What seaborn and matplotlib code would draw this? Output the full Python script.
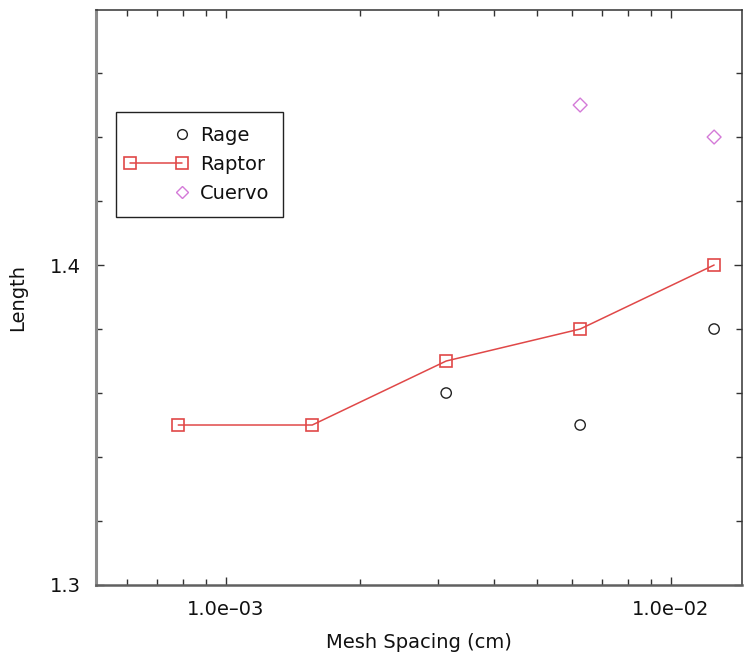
import matplotlib
matplotlib.use('Agg')
import matplotlib.pyplot as plt
import seaborn as sns
from matplotlib.lines import Line2D
from matplotlib.legend_handler import HandlerLine2D
from matplotlib.ticker import LogLocator, MultipleLocator, NullFormatter

# ---- data ----
mesh_spacing = [7.8125e-4, 1.5625e-3, 3.125e-3, 6.25e-3, 1.25e-2]
raptor = [1.35, 1.35, 1.37, 1.38, 1.40]
rage_x = [3.125e-3, 6.25e-3, 1.25e-2]
rage = [1.36, 1.35, 1.38]
cuervo_x = [6.25e-3, 1.25e-2]
cuervo = [1.450, 1.440]
series_names = ['Rage', 'Raptor', 'Cuervo']
xtick_values = [1e-3, 1e-2]
xtick_labels = ['1.0e\u201303', '1.0e\u201302']
ytick_values = [1.3, 1.4]
ytick_labels = ['1.3', '1.4']
x_label = 'Mesh Spacing (cm)'
y_label = 'Length'

# ---- style ----
sns.set_theme(style='ticks')
plt.rcParams['font.family'] = ['DejaVu Sans']

red = '#e04848'
magenta = '#d47ad8'
dark = '#222222'


class RightMarkerHandler(HandlerLine2D):
    """Legend entry showing a single marker at the right end of the handle."""
    def create_artists(self, legend, orig_handle, xdescent, ydescent,
                       width, height, fontsize, trans):
        artists = super().create_artists(legend, orig_handle, xdescent,
                                         ydescent, width, height, fontsize,
                                         trans)
        for a in artists:
            if isinstance(a, Line2D) and len(a.get_xdata()) >= 2:
                a.set_markevery([len(a.get_xdata()) - 1])
        return artists


fig = plt.figure(figsize=(7.47, 6.55), dpi=100)
ax = fig.add_axes([96 / 747, 70 / 655, 646 / 747, 575 / 655])
ax.set_xscale('log')

sns.lineplot(x=mesh_spacing, y=raptor, ax=ax, color=red, linewidth=1.1,
             marker='s', markersize=8, markerfacecolor='none',
             markeredgecolor=red, markeredgewidth=1.2)
sns.scatterplot(x=rage_x, y=rage, ax=ax, marker='o', s=55,
                facecolors='none', edgecolors=dark, linewidth=1.0)
sns.scatterplot(x=cuervo_x, y=cuervo, ax=ax, marker='D', s=50,
                facecolors='none', edgecolors=magenta, linewidth=1.0)

ax.set_xlim(5.104e-4, 1.444e-2)
ax.set_ylim(1.3, 1.4797)

ax.set_xticks(xtick_values, labels=xtick_labels)
ax.xaxis.set_minor_locator(LogLocator(base=10, subs=range(2, 10)))
ax.xaxis.set_minor_formatter(NullFormatter())
ax.set_yticks(ytick_values, labels=ytick_labels)
ax.yaxis.set_minor_locator(MultipleLocator(0.02))

ax.tick_params(which='both', direction='in', top=True, right=True,
               labelsize=14, pad=11, color='#333333', width=1.0,
               labelcolor='#111111')
ax.tick_params(which='major', length=6)
ax.tick_params(which='minor', length=4)

ax.set_xlabel(x_label, fontsize=14, labelpad=10, color='#111111')
ax.set_ylabel(y_label, fontsize=14, labelpad=16, color='#111111')

ax.spines['left'].set_color('#8a8a8a')
ax.spines['left'].set_linewidth(2.2)
ax.spines['bottom'].set_color('#606060')
ax.spines['bottom'].set_linewidth(1.8)
for s in ('top', 'right'):
    ax.spines[s].set_color('#333333')
    ax.spines[s].set_linewidth(1.1)

h_rage = Line2D([0, 1], [0, 0], color=dark, marker='o', linestyle='',
                markersize=7, markerfacecolor='none', markeredgewidth=1.0)
h_raptor = Line2D([0, 1], [0, 0], color=red, marker='s', linewidth=1.1,
                  markersize=8, markerfacecolor='none', markeredgewidth=1.2)
h_cuervo = Line2D([0, 1], [0, 0], color=magenta, marker='D', linestyle='',
                  markersize=6.5, markerfacecolor='none', markeredgewidth=1.0)
leg = ax.legend([h_rage, h_raptor, h_cuervo], series_names, loc='upper left',
                bbox_to_anchor=(0.031, 0.822), borderaxespad=0, numpoints=2,
                handlelength=2.7, handletextpad=0.9, borderpad=0.7,
                labelspacing=0.52, frameon=True, fancybox=False,
                edgecolor='#222222', framealpha=1, fontsize=14,
                labelcolor='#111111',
                handler_map={h_rage: RightMarkerHandler(marker_pad=0),
                             h_raptor: HandlerLine2D(marker_pad=0),
                             h_cuervo: RightMarkerHandler(marker_pad=0)})
leg.get_frame().set_linewidth(1.0)

fig.savefig('out.png', dpi=100)
